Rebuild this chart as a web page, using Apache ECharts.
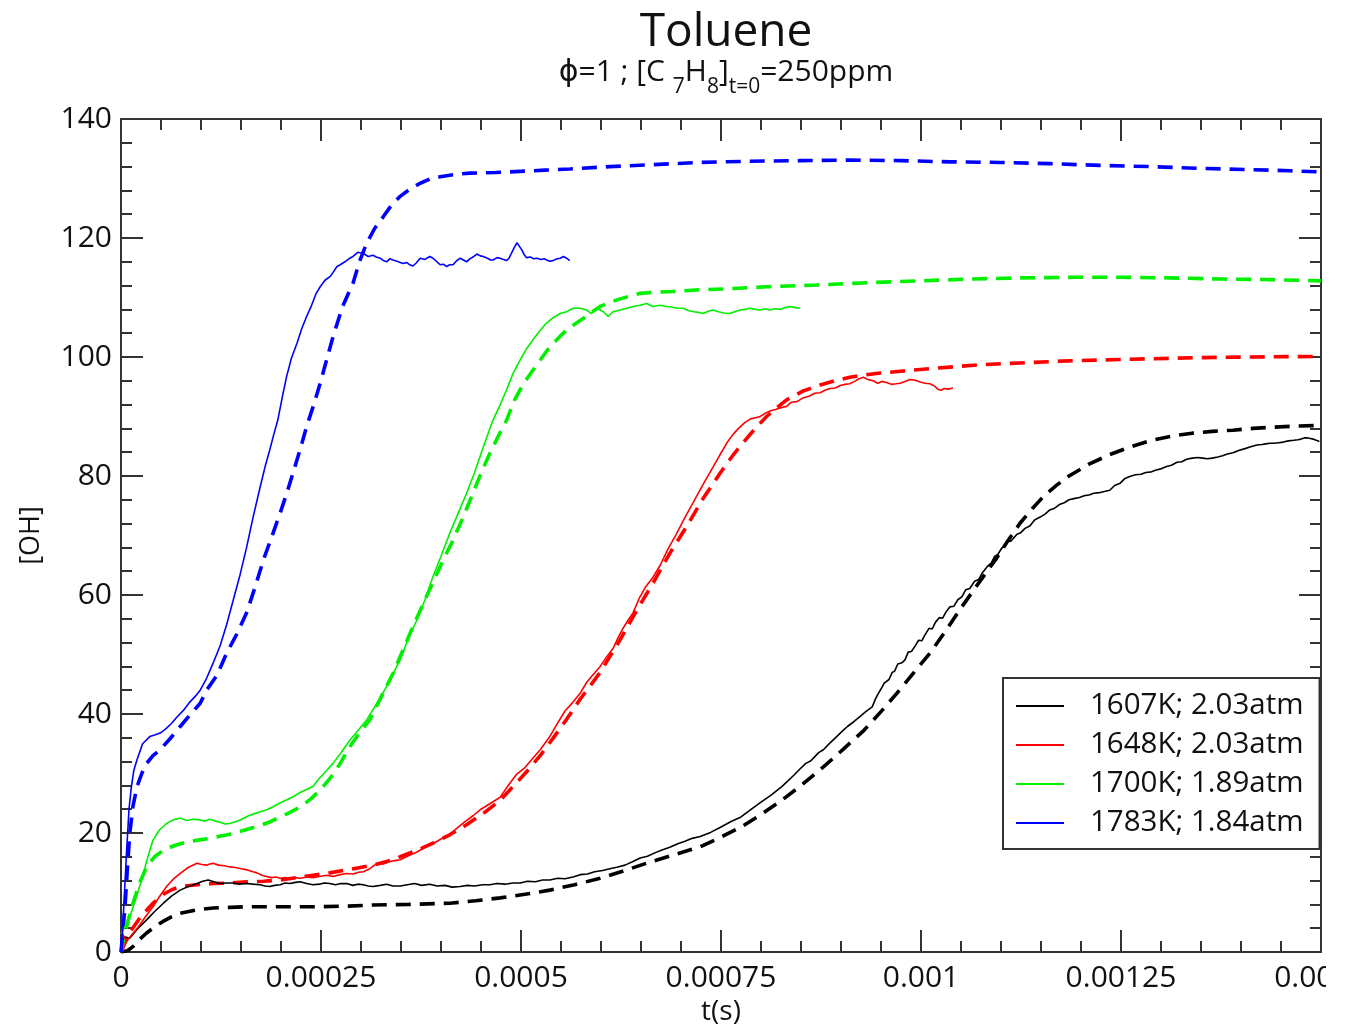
<!DOCTYPE html>
<html>
<head>
<meta charset="utf-8">
<title>Toluene – OH profiles</title>
<script src="https://cdn.jsdelivr.net/npm/echarts/dist/echarts.min.js"></script>
<style>
  html, body { margin: 0; padding: 0; background: #ffffff; }
  #chart { width: 1345px; height: 1024px; }
</style>
</head>
<body>
<div id="chart"></div>
<script>
// Time values are in microseconds, [OH] in the plotted units.
// Measured traces (thin solid lines)
const meas1607 = [[0,3],[5,2.5],[11,2.3],[20,3.8],[32,5.4],[42,6.8],[53,8.2],[63,9.4],[74,10.4],[84,11],[95,11.5],[102,11.9],[109,12.1],[116,11.8],[124,11.5],[132,11.6],[140,11.6],[148,11.4],[157,11.5],[165,11.4],[174,11.3],[180,11.1],[186,11],[192,11.2],[199,11.3],[205,11.6],[211,11.5],[218,11.7],[224,11.8],[232,11.5],[240,11.3],[248,11.4],[254,11.6],[261,11.5],[268,11.3],[275,11.5],[282,11.5],[290,11.2],[296,11.4],[303,11.3],[309,11.1],[315,11],[324,11.2],[332,11.4],[340,11.1],[349,11.1],[358,11.3],[367,11.5],[376,11.2],[386,11.4],[395,11.1],[405,11.2],[414,10.9],[424,11],[433,11.2],[442,11.1],[452,11.3],[461,11.3],[470,11.5],[480,11.4],[490,11.6],[499,11.6],[508,11.9],[518,11.8],[527,12.1],[536,12.1],[546,12.4],[555,12.3],[565,12.6],[574,13],[583,13.1],[592,13.5],[602,13.7],[611,14],[621,14.3],[630,14.6],[640,15.2],[649,15.8],[658,16.1],[668,16.7],[677,17.2],[686,17.6],[696,18.2],[705,18.6],[714,19.1],[724,19.4],[737,20.1],[750,21],[762,21.9],[775,22.7],[788,24],[800,25.2],[813,26.4],[826,27.8],[834,28.8],[841,29.7],[849,30.8],[856,31.7],[862,32.1],[867,32.8],[872,33.5],[878,34],[886,35.1],[893,36],[900,36.9],[908,37.9],[916,38.7],[924,39.6],[931,40.4],[939,41.2],[943,42.5],[946,43.3],[950,44.2],[954,45.2],[960,45.8],[964,47],[967,47.2],[971,48.4],[976,48.6],[980,49.1],[984,50.4],[988,50.5],[993,51.5],[997,52.4],[1001,52.3],[1005,53.3],[1010,54.4],[1014,54.3],[1018,55.4],[1023,56.2],[1027,56.1],[1031,57.1],[1036,58],[1041,58.1],[1046,59.2],[1051,59.7],[1056,60.9],[1061,61.1],[1067,62.3],[1072,62.6],[1077,63.8],[1083,64.8],[1088,65.4],[1092,66.5],[1096,66.8],[1101,67.9],[1105,68.2],[1108,69.2],[1112,69],[1116,69.6],[1120,70.2],[1124,70.4],[1130,71.2],[1136,71.6],[1142,72.6],[1149,73.1],[1155,73.6],[1161,74.3],[1167,74.6],[1173,75.2],[1179,75.5],[1185,76],[1191,76.2],[1198,76.4],[1204,76.7],[1210,76.8],[1216,77.1],[1223,77.2],[1229,77.4],[1236,77.6],[1242,78.4],[1249,78.8],[1255,79.6],[1261,79.9],[1268,80.2],[1275,80.3],[1281,80.6],[1288,80.7],[1294,81],[1300,81.2],[1307,81.6],[1313,81.8],[1320,82.3],[1326,82.4],[1332,82.8],[1339,83],[1346,83.1],[1352,83],[1358,82.9],[1364,83],[1371,83.2],[1377,83.4],[1383,83.7],[1390,83.9],[1397,84.3],[1405,84.6],[1412,84.9],[1420,85.2],[1426,85.3],[1431,85.4],[1436,85.5],[1441,85.5],[1447,85.6],[1453,85.7],[1459,85.9],[1466,86],[1471,86.1],[1475,86.2],[1479,86.4],[1483,86.4],[1487,86.3],[1490,86.2],[1494,86],[1498,85.8]];

const meas1648 = [[0,3.5],[4,2.5],[7,1.8],[14,3],[22,4.3],[31,6],[40,7.6],[48,9.3],[57,11],[65,12.2],[74,13.2],[84,14.2],[95,14.9],[101,14.7],[107,14.6],[111,14.8],[115,14.9],[122,14.6],[129,14.5],[136,14.3],[143,14.2],[150,14],[158,13.8],[165,13.5],[170,13.3],[176,12.9],[182,12.7],[188,12.5],[194,12.6],[199,12.4],[206,12.5],[212,12.2],[218,12.5],[224,12.4],[232,12.6],[240,12.5],[248,12.7],[257,12.9],[265,12.7],[274,13],[282,13.2],[290,13.1],[297,13.4],[303,13.5],[311,14],[320,14.9],[328,14.8],[336,15.2],[344,15.4],[349,15.5],[360,16.2],[370,16.8],[380,17.6],[390,18.2],[400,19],[411,19.8],[420,20.8],[430,21.9],[440,22.9],[450,24],[462,25],[474,26],[484,28],[494,29.8],[505,31],[515,32.6],[524,34],[535,36],[545,38.3],[555,40.5],[565,42],[574,43.5],[582,45.3],[590,46.6],[599,48],[607,49.6],[615,51],[622,53],[628,54.5],[634,55.8],[640,57],[648,59.5],[656,61.4],[665,63],[674,65],[684,67.8],[694,70.2],[704,72.8],[715,75.5],[722,77.2],[731,79.4],[740,81.5],[748,83.4],[757,85.5],[765,87],[772,88],[780,89],[787,89.6],[793,89.8],[799,90],[806,90.6],[813,91],[819,91.2],[826,91.5],[832,91.7],[838,92.4],[845,92.5],[852,93.1],[860,93.4],[867,93.9],[874,94],[880,94.4],[886,94.7],[893,94.8],[899,95.2],[905,95.4],[911,95.5],[917,95.9],[922,96.3],[928,96.6],[934,96.2],[940,96],[946,95.6],[951,95.9],[957,95.7],[963,95.4],[969,95.5],[974,95.6],[980,95.9],[986,96.2],[993,96.1],[999,95.8],[1005,95.6],[1011,95.5],[1017,95.1],[1021,94.6],[1025,94.4],[1029,94.7],[1034,94.6],[1040,94.8]];

const meas1700 = [[0,3],[5,4.3],[10,5.5],[15,7.5],[21,10],[28,13.2],[34,16.2],[40,18.8],[48,20.5],[57,21.6],[65,22.2],[74,22.5],[82,22.1],[90,22.3],[99,22.2],[105,22],[111,22.3],[118,22],[124,21.8],[130,21.5],[136,21.6],[143,21.9],[149,22.2],[155,22.6],[161,23],[168,23.3],[175,23.6],[182,23.9],[190,24.4],[198,25],[206,25.5],[215,26.1],[224,26.8],[232,27.3],[240,27.8],[248,29.2],[257,30.5],[265,31.7],[275,33.5],[286,35.6],[296,37.2],[307,39],[319,41.6],[332,44.6],[340,46.8],[349,49.1],[361,53.4],[370,55.8],[380,59.2],[390,63.1],[400,66.5],[411,70.4],[421,73.6],[432,77.1],[442,80.6],[453,84.9],[459,87.2],[465,89.4],[474,92],[482,94.5],[490,97.2],[499,99.5],[507,101.4],[515,102.9],[524,104.5],[532,105.7],[540,106.6],[549,107.3],[557,107.6],[565,108.2],[574,108.2],[582,107.9],[588,107.3],[595,108.2],[603,107.6],[609,106.8],[615,107.6],[624,107.9],[632,108.2],[640,108.5],[649,108.7],[657,109],[665,108.5],[674,108.7],[682,108.5],[688,108.4],[695,108.2],[703,108.2],[709,107.8],[716,107.6],[722,107.5],[728,107.3],[734,107.7],[740,107.9],[747,107.6],[753,107.4],[761,107.3],[767,107.6],[774,107.9],[780,108],[786,108.2],[793,108],[799,107.9],[805,108.1],[811,107.9],[818,108.1],[824,108],[830,108.3],[836,108.5],[843,108.3],[849,108.2]];

const meas1783 = [[0,0],[1.5,2.5],[4,9],[7,17],[10,24],[13,27.8],[16,30.5],[20,32.3],[27,35],[36,36.2],[43,36.5],[49,36.8],[56,37.5],[63,38.4],[70,39.5],[78,40.6],[86,42],[93,43],[99,44],[107,46],[115,48.5],[124,51.5],[132,55],[140,59],[149,63.5],[157,68],[165,73],[174,78.2],[180,81.5],[186,84.4],[191,87],[196,89.4],[202,93.5],[207,96.7],[213,99.8],[220,102.3],[226,104.8],[232,106.8],[238,108.6],[244,110.7],[249,111.8],[255,112.9],[262,113.6],[270,115.2],[274,115.5],[280,116],[286,116.6],[290,116.9],[296,117.6],[303,117.4],[309,116.9],[315,117.1],[319,116.8],[324,116.6],[328,116.2],[332,116],[336,116.5],[340,116.3],[345,116.1],[349,115.9],[353,115.7],[357,115.9],[361,115.5],[365,115.3],[369,115.8],[374,116.6],[380,116.4],[386,116.9],[390,116.6],[394,116.1],[399,115.5],[403,115.6],[407,115.2],[411,115.5],[415,115.5],[419,116.1],[424,116.6],[428,116.3],[432,116],[436,116.5],[441,116.9],[445,117.3],[449,117],[453,116.9],[458,116.6],[462,116.3],[465,116.3],[470,116.7],[474,116.6],[478,116.4],[482,116.2],[485,116.6],[488,117.4],[492,118.5],[495,119.2],[498,118.6],[501,118],[504,117.2],[507,116.7],[512,116.8],[516,116.5],[520,116.6],[525,116.4],[529,116.5],[532,116.3],[536,116.1],[540,116.2],[545,116.5],[549,116.6],[553,116.9],[557,116.6],[561,116.2]];

// Simulated profiles (thick dashed lines)
const model1607 = [[0,0],[8,0.2],[15,0.9],[23,2.1],[32,3.2],[42,4.2],[52,5.1],[63,5.9],[74,6.5],[95,7.1],[115,7.4],[136,7.5],[157,7.6],[199,7.6],[240,7.6],[282,7.7],[315,7.9],[360,8],[411,8.2],[443,8.6],[474,9.1],[505,9.7],[536,10.4],[567,11.3],[599,12.4],[630,13.7],[661,15.1],[693,16.4],[724,17.7],[750,19.3],[775,21],[800,23.1],[826,25.5],[852,28.2],[878,31.1],[903,34.1],[929,37.3],[950,40.4],[970,43.5],[990,46.8],[1011,50.2],[1031,54],[1051,58],[1072,62],[1093,65.9],[1108,69],[1124,72.1],[1139,74.5],[1154,76.7],[1170,78.5],[1185,80],[1210,82],[1236,83.6],[1262,84.9],[1288,86],[1313,86.7],[1339,87.2],[1364,87.5],[1390,87.7],[1415,88],[1441,88.2],[1470,88.4],[1498,88.5]];

const model1648 = [[0,0],[5,1.5],[12,3.5],[25,6],[40,8.2],[53,9.7],[64,10.5],[74,11],[95,11.3],[115,11.5],[136,11.6],[157,11.8],[178,11.9],[199,12.1],[220,12.5],[240,12.9],[261,13.3],[282,13.8],[299,14.2],[315,14.6],[332,15.2],[349,16],[370,17.1],[390,18.3],[411,19.7],[432,21.4],[453,23.3],[474,25.5],[490,27.8],[507,30.3],[524,33],[540,35.9],[557,39.1],[574,42.5],[599,47],[624,52.5],[645,57.5],[665,62],[686,67],[707,71.5],[728,76.3],[749,80.5],[765,83.5],[782,86.3],[795,88.3],[807,90],[820,91.5],[832,92.8],[853,94.3],[874,95.3],[892,96],[911,96.6],[930,97],[949,97.3],[974,97.6],[999,97.9],[1036,98.3],[1074,98.7],[1124,99],[1174,99.3],[1224,99.5],[1286,99.7],[1349,99.9],[1411,100],[1500,100.1]];

const model1700 = [[0,0],[5,3.2],[10,5.8],[15,8.2],[23,11.5],[32,14.3],[42,16],[53,17.1],[67,17.9],[82,18.5],[96,18.8],[111,19.1],[125,19.5],[140,19.9],[155,20.5],[170,21.1],[185,21.8],[199,22.7],[212,23.5],[224,24.4],[237,25.7],[249,27.2],[262,29.3],[274,31.7],[286,34.5],[298,36.8],[311,39],[325,42.8],[340,46.8],[352,50.6],[365,54.7],[380,59.2],[395,63.6],[405,66.5],[415,69.2],[428,73.2],[440,77.1],[451,80.8],[461,83.8],[472,86.8],[482,89.4],[492,92.8],[503,95.5],[515,97.8],[524,99.5],[536,101.7],[549,103.5],[557,104.5],[568,105.6],[578,106.5],[589,107.6],[599,108.5],[610,109.1],[620,109.6],[635,110.2],[649,110.7],[670,110.9],[690,111],[724,111.3],[765,111.5],[807,111.8],[869,112.1],[936,112.5],[1000,112.8],[1060,113.1],[1125,113.3],[1190,113.4],[1250,113.4],[1311,113.3],[1375,113.1],[1440,113],[1500,112.8]];

const model1783 = [[0,0],[2,3],[5,7.6],[8,14],[11,20],[15,24.5],[20,27.8],[26,30],[32,31.7],[40,33],[49,34],[61,35.8],[74,37.9],[86,39.8],[99,41.8],[107,44],[120,46.5],[132,50.2],[145,53.5],[157,57],[168,61.5],[178,65.9],[189,70],[199,73.8],[207,77],[215,80.5],[224,84.5],[232,88.3],[241,92],[249,95.6],[257,99.5],[265,103.4],[277,108.5],[290,112.4],[298,116],[307,119.1],[317,121.6],[328,123.6],[338,125.5],[349,127],[361,128.2],[374,129.2],[386,129.9],[399,130.3],[418,130.7],[436,130.9],[468,131],[499,131.2],[530,131.4],[561,131.6],[611,132],[661,132.3],[724,132.7],[786,132.9],[849,133],[911,133.1],[974,133],[1036,132.8],[1099,132.7],[1161,132.5],[1224,132.2],[1286,132],[1349,131.7],[1411,131.5],[1461,131.3],[1500,131.1]];

// Conditions / legend labels and colours
const conditions = ['1607K; 2.03atm', '1648K; 2.03atm', '1700K; 1.89atm', '1783K; 1.84atm'];
const colors = ['#000000', '#ff0000', '#00f000', '#0000ff'];
const measured = [meas1607, meas1648, meas1700, meas1783];
const models = [model1607, model1648, model1700, model1783];

// Axis ranges and ticks
const tMax = 0.0015, tStep = 0.00025;
const ohMax = 140, ohStep = 20;

const FONT = '"Open Sans", "DejaVu Sans", sans-serif';
const AXIS_COLOR = '#333333';
const TEXT_COLOR = '#111111';

const toSeconds = arr => arr.map(p => [p[0] * 1e-6, p[1]]);

const series = [];
models.forEach((m, i) => {
  series.push({
    name: conditions[i] + ' (model)',
    type: 'line',
    data: toSeconds(m),
    showSymbol: false,
    symbol: 'none',
    lineStyle: { color: colors[i], width: 3.6, type: [15, 9] },
    z: 2
  });
});
measured.forEach((m, i) => {
  series.push({
    name: conditions[i],
    type: 'line',
    data: toSeconds(m),
    showSymbol: false,
    symbol: 'none',
    lineStyle: { color: colors[i], width: 1.6 },
    itemStyle: { color: colors[i] },
    z: 3
  });
});

// Shared look of the four frame axes: inside major and minor ticks
const frameAxis = () => ({
  axisLine: { show: true, onZero: false, lineStyle: { color: AXIS_COLOR, width: 2 } },
  axisTick: { show: true, inside: true, length: 22, lineStyle: { color: AXIS_COLOR, width: 2 } },
  minorTick: { show: true, splitNumber: 5, length: 11, lineStyle: { color: AXIS_COLOR, width: 2 } },
  splitLine: { show: false },
  minorSplitLine: { show: false }
});

const fmtTime = v => (v === 0 ? '0' : String(parseFloat(v.toPrecision(6))));

const chart = echarts.init(document.getElementById('chart'), null, { renderer: 'canvas' });
chart.setOption({
  animation: false,
  backgroundColor: '#ffffff',
  title: {
    text: 'Toluene',
    left: 721,
    top: 5,
    textAlign: 'center',
    textStyle: { fontFamily: FONT, fontSize: 46, fontWeight: 'normal', color: TEXT_COLOR }
  },
  graphic: [
    {
      type: 'text',
      x: 726,
      y: 57,
      style: {
        text: '{a|ϕ=1 ; [C }{s|7}{a|H}{s|8}{a|]}{s|t=0}{a|=250ppm}',
        align: 'center',
        verticalAlign: 'top',
        fill: TEXT_COLOR,
        rich: {
          a: { fontFamily: FONT, fontSize: 30, lineHeight: 34, verticalAlign: 'top', fill: TEXT_COLOR },
          s: { fontFamily: FONT, fontSize: 21, padding: [20, 0, 0, 0], verticalAlign: 'top', fill: TEXT_COLOR }
        }
      }
    },
    {
      // the figure is trimmed just right of the frame, cutting the last time label
      type: 'rect',
      shape: { x: 1326, y: 958, width: 19, height: 40 },
      style: { fill: '#ffffff' },
      z: 100
    }
  ],
  legend: {
    data: conditions.map(n => ({ name: n, icon: 'rect' })),
    orient: 'vertical',
    left: 1003,
    top: 678,
    itemWidth: 48,
    itemHeight: 2,
    itemGap: 9,
    padding: [13, 16, 11, 13],
    backgroundColor: '#ffffff',
    borderColor: '#333333',
    borderWidth: 2,
    borderRadius: 0,
    textStyle: { fontFamily: FONT, fontSize: 29.5, lineHeight: 28, color: TEXT_COLOR, padding: [0, 0, 0, 21] }
  },
  grid: { left: 121, right: 24, top: 119, bottom: 72, containLabel: false, outerBoundsMode: 'none' },
  xAxis: [
    Object.assign(frameAxis(), {
      type: 'value', position: 'bottom', min: 0, max: tMax, interval: tStep,
      name: 't(s)', nameLocation: 'middle', nameGap: 42,
      nameTextStyle: { fontFamily: FONT, fontSize: 28, color: TEXT_COLOR },
      axisLabel: { show: true, margin: 11, fontFamily: FONT, fontSize: 30, color: TEXT_COLOR, formatter: fmtTime }
    }),
    Object.assign(frameAxis(), {
      type: 'value', position: 'top', min: 0, max: tMax, interval: tStep,
      axisLabel: { show: false }
    })
  ],
  yAxis: [
    Object.assign(frameAxis(), {
      type: 'value', position: 'left', min: 0, max: ohMax, interval: ohStep,
      name: '[OH]', nameLocation: 'middle', nameGap: 76, nameRotate: 90,
      nameTextStyle: { fontFamily: FONT, fontSize: 27, color: TEXT_COLOR },
      axisLabel: { show: true, margin: 9, fontFamily: FONT, fontSize: 30, color: TEXT_COLOR }
    }),
    Object.assign(frameAxis(), {
      type: 'value', position: 'right', min: 0, max: ohMax, interval: ohStep,
      axisLabel: { show: false }
    })
  ],
  series: series
});
</script>
</body>
</html>
